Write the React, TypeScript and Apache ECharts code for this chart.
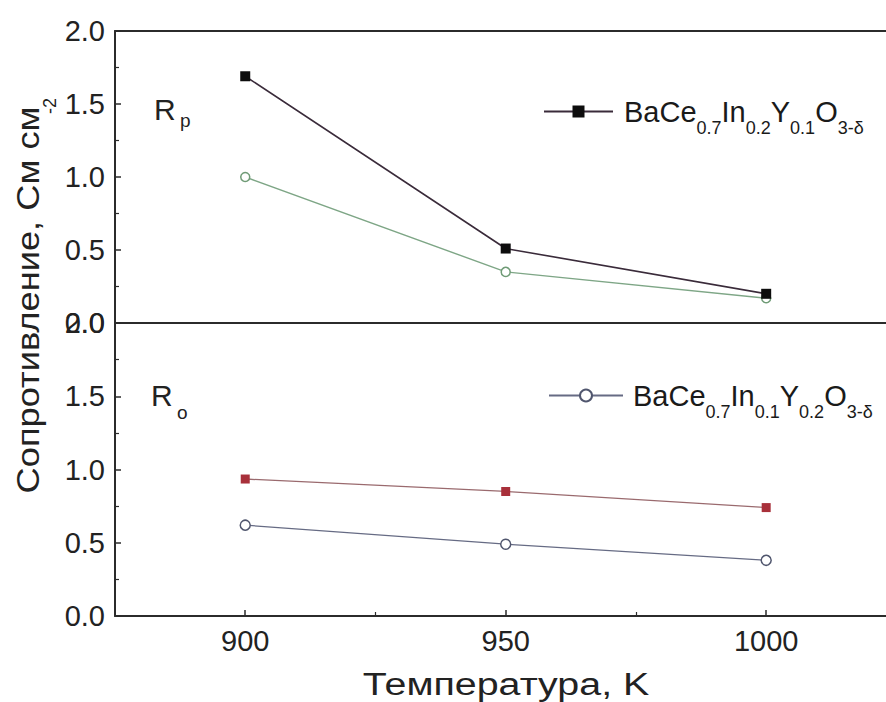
import React, { useEffect, useRef } from 'react';
import * as echarts from 'echarts';

// ---- data ----
const temperatures = [900, 950, 1000];
const rpSquare = [1.69, 0.51, 0.2];
const rpCircle = [1.0, 0.35, 0.17];
const roSquare = [0.935, 0.85, 0.74];
const roCircle = [0.62, 0.49, 0.38];
const xTickValues = [900, 950, 1000];
const xMinorValues = [925, 975];
const legendNames = ['BaCe0.7In0.2Y0.1O3-δ', 'BaCe0.7In0.1Y0.2O3-δ'];
const xTitle = 'Температура, K';
const yTitle = 'Сопротивление, См см';
const yTitleSup = '-2';

const FONT = '"Liberation Sans", Arial, sans-serif';

function toRich(name: string): string {
  const parts: string[] = [];
  const re = /([A-Z][a-z]*)([^A-Z]*)/g;
  let m: RegExpExecArray | null;
  while ((m = re.exec(name)) !== null) {
    parts.push(`{n|${m[1]}}`);
    if (m[2]) parts.push(`{s|${m[2]}}`);
  }
  return parts.join('');
}

const legendRich = {
  n: { fontSize: 29, fontFamily: FONT, color: '#1a1a1a', lineHeight: 50, verticalAlign: 'middle' },
  s: { fontSize: 18, fontFamily: FONT, color: '#1a1a1a', lineHeight: 50, verticalAlign: 'bottom' },
};

const pairs = (ys: number[]) => temperatures.map((t, i) => [t, ys[i]]);

export default function App() {
  const ref = useRef<HTMLDivElement>(null);
  useEffect(() => {
    if (!ref.current) return;
    const chart = echarts.init(ref.current, undefined, { renderer: 'svg' });
    const axisColor = '#2b2b2b';
    const yAxisCommon = {
      type: 'value',
      min: 0,
      max: 2,
      interval: 0.5,
      axisLine: { show: true, lineStyle: { color: axisColor, width: 2 } },
      axisTick: { show: true, inside: true, length: 6, lineStyle: { color: axisColor, width: 1.5 } },
      minorTick: { show: true, splitNumber: 2, length: 4, lineStyle: { color: axisColor, width: 1.2 } },
      splitLine: { show: false },
      axisLabel: {
        fontSize: 29,
        fontFamily: FONT,
        color: '#222',
        margin: 10,
        formatter: (v: number) => v.toFixed(1),
      },
    };
    const xBase = { type: 'value', min: 875, max: 1023, splitLine: { show: false } };
    const option: any = {
      animation: false,
      backgroundColor: '#fff',
      grid: [
        { left: 115, top: 31, right: 0, height: 292 },
        { left: 115, top: 323, right: 0, height: 293 },
      ],
      xAxis: [
        {
          ...xBase,
          gridIndex: 0,
          position: 'bottom',
          axisLine: { show: true, onZero: false, lineStyle: { color: axisColor, width: 2 } },
          axisTick: { show: false },
          axisLabel: { show: false },
        },
        {
          ...xBase,
          gridIndex: 0,
          position: 'top',
          axisLine: { show: true, onZero: false, lineStyle: { color: axisColor, width: 2 } },
          axisTick: { show: false },
          axisLabel: { show: false },
        },
        {
          ...xBase,
          gridIndex: 1,
          position: 'bottom',
          axisLine: { show: true, onZero: false, lineStyle: { color: axisColor, width: 2 } },
          axisTick: { show: true, inside: true, length: 6, customValues: xTickValues, lineStyle: { color: axisColor, width: 1.5 } },
          axisLabel: {
            show: true,
            customValues: xTickValues,
            fontSize: 29,
            fontFamily: FONT,
            color: '#222',
            margin: 10,
            formatter: (v: number) => String(v),
          },
        },
        {
          ...xBase,
          gridIndex: 1,
          position: 'bottom',
          axisLine: { show: false, onZero: false },
          axisTick: { show: true, inside: true, length: 4, customValues: xMinorValues, lineStyle: { color: axisColor, width: 1.2 } },
          axisLabel: { show: false },
        },
      ],
      yAxis: [
        { ...yAxisCommon, gridIndex: 0 },
        { ...yAxisCommon, gridIndex: 1 },
      ],
      legend: [
        {
          data: [legendNames[0]],
          left: 543,
          top: 97,
          padding: 0,
          itemWidth: 69,
          itemHeight: 15,
          selectedMode: false,
          formatter: (name: string) => toRich(name),
          textStyle: { padding: [0, 0, 0, 6], rich: legendRich },
        },
        {
          data: [legendNames[1]],
          left: 548,
          top: 381,
          padding: 0,
          itemWidth: 74,
          itemHeight: 15,
          selectedMode: false,
          formatter: (name: string) => toRich(name),
          textStyle: { padding: [0, 0, 0, 5], rich: legendRich },
        },
      ],
      series: [
        {
          name: 'Rp2',
          type: 'line',
          xAxisIndex: 0,
          yAxisIndex: 0,
          data: pairs(rpCircle),
          symbol: 'circle',
          symbolSize: 9,
          itemStyle: { color: '#ffffff', borderColor: '#6f9b76', borderWidth: 1.5 },
          lineStyle: { color: '#7ea686', width: 1.4 },
          z: 2,
        },
        {
          name: legendNames[0],
          type: 'line',
          xAxisIndex: 0,
          yAxisIndex: 0,
          data: pairs(rpSquare),
          symbol: 'rect',
          symbolSize: 10,
          itemStyle: { color: '#0d0d0d' },
          lineStyle: { color: '#3a2b3a', width: 1.6 },
          z: 3,
        },
        {
          name: 'Ro1',
          type: 'line',
          xAxisIndex: 2,
          yAxisIndex: 1,
          data: pairs(roSquare),
          symbol: 'rect',
          symbolSize: 9,
          itemStyle: { color: '#a8303a' },
          lineStyle: { color: '#9a6a6e', width: 1.3 },
          z: 3,
        },
        {
          name: legendNames[1],
          type: 'line',
          xAxisIndex: 2,
          yAxisIndex: 1,
          data: pairs(roCircle),
          symbol: 'circle',
          symbolSize: 10,
          itemStyle: { color: '#ffffff', borderColor: '#50566e', borderWidth: 1.5 },
          lineStyle: { color: '#666b84', width: 1.3 },
          z: 3,
        },
      ],
      graphic: [
        {
          type: 'text',
          x: 28,
          y: 300,
          rotation: Math.PI / 2,
          scaleX: 1.17,
          style: { text: yTitle, fontSize: 31, fontFamily: FONT, fill: '#222', align: 'center', verticalAlign: 'middle' },
        },
        {
          type: 'text',
          x: 50,
          y: 106,
          rotation: Math.PI / 2,
          style: { text: yTitleSup, fontSize: 18, fontFamily: FONT, fill: '#222', align: 'center', verticalAlign: 'middle' },
        },
        {
          type: 'text',
          x: 506,
          y: 685,
          scaleX: 1.27,
          style: { text: xTitle, fontSize: 31, fontFamily: FONT, fill: '#222', align: 'center', verticalAlign: 'middle' },
        },
        { type: 'text', x: 154, y: 94, style: { text: 'R', fontSize: 30, fontFamily: FONT, fill: '#222' } },
        { type: 'text', x: 180, y: 111, style: { text: 'p', fontSize: 19, fontFamily: FONT, fill: '#222' } },
        { type: 'text', x: 151, y: 380, style: { text: 'R', fontSize: 30, fontFamily: FONT, fill: '#222' } },
        { type: 'text', x: 177, y: 403, style: { text: 'o', fontSize: 19, fontFamily: FONT, fill: '#222' } },
      ],
    };
    chart.setOption(option);
    return () => chart.dispose();
  }, []);
  return (
    <div
      ref={ref}
      style={{ position: 'fixed', left: 0, top: 0, width: 886, height: 702, background: '#fff' }}
    />
  );
}
